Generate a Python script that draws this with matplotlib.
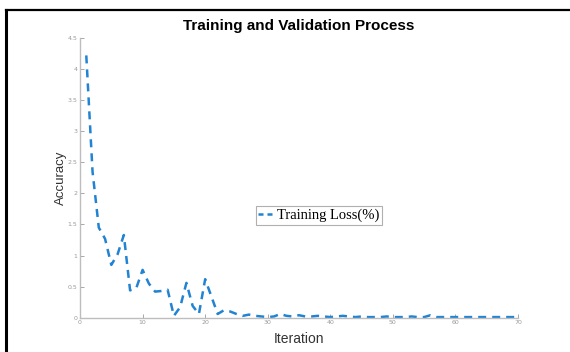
import matplotlib.pyplot as plt
import numpy as np
from matplotlib.lines import Line2D

# training loss per iteration
iteration = np.arange(1, 71)
loss = [4.22, 2.35, 1.45, 1.27, 0.85, 1.02, 1.33, 0.44, 0.48, 0.77,
        0.55, 0.42, 0.43, 0.45, 0.03, 0.17, 0.56, 0.19, 0.06, 0.62,
        0.34, 0.06, 0.12, 0.10, 0.06, 0.03, 0.05, 0.03, 0.02, 0.01,
        0.02, 0.06, 0.03, 0.02, 0.04, 0.02, 0.02, 0.03, 0.02, 0.01,
        0.02, 0.03, 0.02, 0.01, 0.02, 0.01, 0.01, 0.01, 0.02, 0.01,
        0.01, 0.01, 0.02, 0.01, 0.01, 0.04, 0.01, 0.01, 0.01, 0.01,
        0.01, 0.01, 0.01, 0.01, 0.01, 0.01, 0.01, 0.01, 0.01, 0.01]
yticks = np.arange(0, 4.51, 0.5)
ytick_labels = ['0', '0.5', '1', '1.5', '2', '2.5', '3', '3.5', '4', '4.5']
xticks = [0, 10, 20, 30, 40, 50, 60, 70]

fig = plt.figure(figsize=(5.7, 3.52), dpi=100)
ax = fig.add_axes([0.1404, 0.0974, 0.7684, 0.7946])

ax.plot(iteration, loss, color='#2183d2', lw=1.8,
        linestyle=(0, (3.2, 2.4)), label='Training Loss(%)')

ax.set_xlim(0, 70)
ax.set_ylim(0, 4.5)
ax.set_xticks(xticks)
ax.set_yticks(yticks)
ax.set_yticklabels(ytick_labels)
ax.tick_params(direction='in', length=3, width=0.6, colors='#9a9a9a',
               labelsize=4.5, pad=2)
for side in ['top', 'right']:
    ax.spines[side].set_visible(False)
for side in ['left', 'bottom']:
    ax.spines[side].set_color('#bdbdbd')
    ax.spines[side].set_linewidth(1.0)

ax.set_title('Training and Validation Process', fontsize=11, fontweight='bold',
             family='Liberation Sans', pad=6)
ax.set_xlabel('Iteration', fontsize=10, family='Liberation Sans',
              color='#333333', labelpad=5)
ax.set_ylabel('Accuracy', fontsize=9.5, family='Liberation Sans',
              color='#333333', labelpad=0)

leg = ax.legend(loc='center', bbox_to_anchor=(0.545, 0.365),
                prop={'family': 'Liberation Serif', 'size': 10.5},
                handlelength=1.1, handletextpad=0.15, borderpad=0.2,
                fancybox=False, framealpha=1)
leg.get_frame().set_edgecolor('#b0b0b0')
leg.get_frame().set_linewidth(0.8)
leg.get_lines()[0].set_linestyle((0, (2.0, 1.6)))

# outer frame lines
fig.add_artist(Line2D([6 / 570, 1], [1 - 10 / 352, 1 - 10 / 352],
                      color='black', lw=1.6, transform=fig.transFigure))
fig.add_artist(Line2D([6 / 570, 6 / 570], [0, 1 - 10 / 352],
                      color='black', lw=2.2, transform=fig.transFigure))

fig.savefig('out.png', dpi=100)
